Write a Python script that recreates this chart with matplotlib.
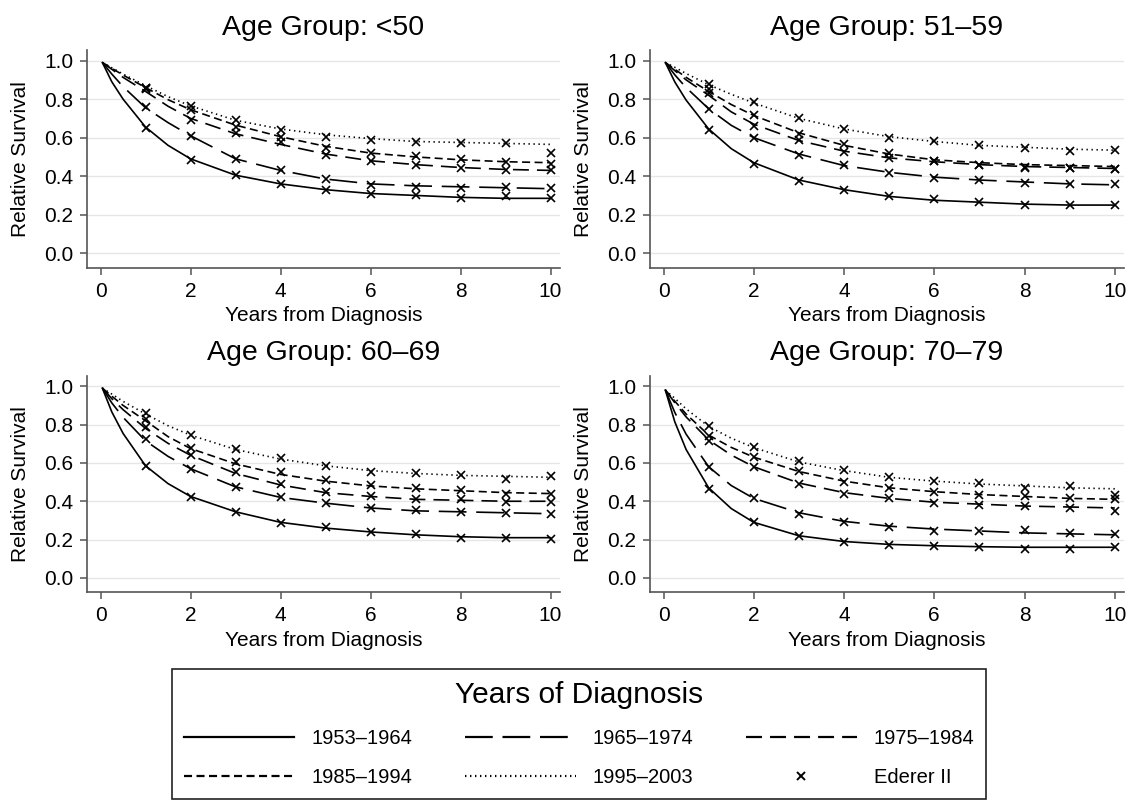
import matplotlib
matplotlib.use('Agg')
import matplotlib.pyplot as plt
from matplotlib.lines import Line2D

########################
# Data
########################

panel_titles = ['Age Group: <50', 'Age Group: 51\u201359',
                'Age Group: 60\u201369', 'Age Group: 70\u201379']
periods = ['1953\u20131964', '1965\u20131974', '1975\u20131984',
           '1985\u20131994', '1995\u20132003']

# years of follow-up for Ederer II estimates
years = [1, 2, 3, 4, 5, 6, 7, 8, 9, 10]
# knots where the fitted curves were read
t_curve = [0.04, 0.25, 0.5, 1, 1.5, 2, 3, 4, 5, 6, 7, 8, 9, 10]

# --- Age <50 ---
fit_lt50_1953 = [0.99, 0.89, 0.80, 0.655, 0.56, 0.49, 0.405, 0.36, 0.33, 0.31, 0.30, 0.29, 0.285, 0.285]
fit_lt50_1965 = [0.99, 0.93, 0.865, 0.755, 0.678, 0.61, 0.49, 0.43, 0.385, 0.36, 0.35, 0.345, 0.34, 0.335]
fit_lt50_1975 = [0.99, 0.955, 0.913, 0.84, 0.763, 0.70, 0.62, 0.565, 0.515, 0.48, 0.46, 0.445, 0.435, 0.43]
fit_lt50_1985 = [0.99, 0.96, 0.925, 0.86, 0.797, 0.745, 0.665, 0.605, 0.555, 0.52, 0.50, 0.485, 0.475, 0.47]
fit_lt50_1995 = [0.99, 0.963, 0.93, 0.87, 0.8125, 0.765, 0.69, 0.645, 0.615, 0.595, 0.58, 0.575, 0.57, 0.565]
ed_lt50_1953 = [0.65, 0.485, 0.405, 0.36, 0.33, 0.31, 0.30, 0.285, 0.295, 0.285]
ed_lt50_1965 = [0.76, 0.61, 0.49, 0.43, 0.385, 0.355, 0.345, 0.34, 0.345, 0.34]
ed_lt50_1975 = [0.85, 0.69, 0.625, 0.58, 0.51, 0.48, 0.46, 0.44, 0.43, 0.43]
ed_lt50_1985 = [0.86, 0.745, 0.655, 0.605, 0.545, 0.52, 0.505, 0.49, 0.475, 0.465]
ed_lt50_1995 = [0.86, 0.765, 0.69, 0.64, 0.605, 0.59, 0.575, 0.57, 0.57, 0.52]

# --- Age 51-59 ---
fit_5159_1953 = [0.99, 0.889, 0.795, 0.645, 0.543, 0.47, 0.38, 0.33, 0.295, 0.275, 0.265, 0.255, 0.25, 0.25]
fit_5159_1965 = [0.99, 0.926, 0.86, 0.75, 0.664, 0.60, 0.515, 0.455, 0.42, 0.395, 0.38, 0.37, 0.36, 0.355]
fit_5159_1975 = [0.99, 0.948, 0.90, 0.82, 0.734, 0.67, 0.585, 0.53, 0.495, 0.475, 0.46, 0.45, 0.445, 0.44]
fit_5159_1985 = [0.99, 0.955, 0.913, 0.84, 0.772, 0.715, 0.625, 0.56, 0.515, 0.485, 0.47, 0.46, 0.455, 0.45]
fit_5159_1995 = [0.99, 0.965, 0.933, 0.875, 0.825, 0.78, 0.70, 0.645, 0.605, 0.58, 0.56, 0.55, 0.54, 0.535]
ed_5159_1953 = [0.64, 0.465, 0.375, 0.33, 0.295, 0.28, 0.265, 0.25, 0.25, 0.25]
ed_5159_1965 = [0.75, 0.60, 0.51, 0.46, 0.415, 0.39, 0.38, 0.365, 0.36, 0.36]
ed_5159_1975 = [0.83, 0.66, 0.59, 0.525, 0.495, 0.48, 0.46, 0.45, 0.445, 0.435]
ed_5159_1985 = [0.85, 0.715, 0.62, 0.565, 0.52, 0.48, 0.46, 0.445, 0.445, 0.435]
ed_5159_1995 = [0.88, 0.785, 0.70, 0.645, 0.60, 0.585, 0.56, 0.545, 0.53, 0.535]

# --- Age 60-69 ---
fit_6069_1953 = [0.99, 0.866, 0.754, 0.585, 0.492, 0.425, 0.345, 0.29, 0.26, 0.24, 0.225, 0.215, 0.21, 0.21]
fit_6069_1965 = [0.99, 0.913, 0.838, 0.715, 0.634, 0.57, 0.475, 0.42, 0.39, 0.365, 0.35, 0.345, 0.34, 0.335]
fit_6069_1975 = [0.99, 0.935, 0.878, 0.78, 0.702, 0.64, 0.545, 0.485, 0.445, 0.425, 0.41, 0.405, 0.40, 0.40]
fit_6069_1985 = [0.99, 0.948, 0.90, 0.82, 0.737, 0.675, 0.595, 0.54, 0.505, 0.48, 0.465, 0.455, 0.445, 0.44]
fit_6069_1995 = [0.99, 0.959, 0.921, 0.855, 0.794, 0.745, 0.67, 0.62, 0.585, 0.56, 0.545, 0.535, 0.53, 0.525]
ed_6069_1953 = [0.585, 0.42, 0.345, 0.285, 0.265, 0.24, 0.23, 0.21, 0.21, 0.205]
ed_6069_1965 = [0.725, 0.57, 0.475, 0.42, 0.39, 0.365, 0.355, 0.345, 0.34, 0.335]
ed_6069_1975 = [0.785, 0.64, 0.55, 0.49, 0.45, 0.43, 0.41, 0.41, 0.395, 0.395]
ed_6069_1985 = [0.83, 0.68, 0.605, 0.55, 0.51, 0.485, 0.47, 0.46, 0.44, 0.44]
ed_6069_1995 = [0.86, 0.745, 0.675, 0.625, 0.585, 0.555, 0.545, 0.535, 0.515, 0.53]

# --- Age 70-79 ---
fit_7079_1953 = [0.98, 0.814, 0.67, 0.47, 0.362, 0.29, 0.22, 0.19, 0.175, 0.168, 0.163, 0.16, 0.16, 0.16]
fit_7079_1965 = [0.98, 0.863, 0.75, 0.58, 0.482, 0.415, 0.34, 0.295, 0.27, 0.255, 0.245, 0.235, 0.23, 0.225]
fit_7079_1975 = [0.98, 0.914, 0.84, 0.72, 0.641, 0.58, 0.495, 0.445, 0.415, 0.395, 0.385, 0.375, 0.37, 0.365]
fit_7079_1985 = [0.98, 0.922, 0.855, 0.745, 0.681, 0.63, 0.555, 0.505, 0.47, 0.45, 0.435, 0.425, 0.415, 0.41]
fit_7079_1995 = [0.98, 0.937, 0.882, 0.79, 0.729, 0.68, 0.605, 0.56, 0.525, 0.505, 0.49, 0.48, 0.47, 0.465]
ed_7079_1953 = [0.466, 0.29, 0.22, 0.19, 0.17, 0.165, 0.16, 0.15, 0.15, 0.16]
ed_7079_1965 = [0.58, 0.415, 0.335, 0.29, 0.265, 0.245, 0.245, 0.25, 0.235, 0.23]
ed_7079_1975 = [0.715, 0.58, 0.49, 0.44, 0.415, 0.39, 0.38, 0.375, 0.365, 0.35]
ed_7079_1985 = [0.74, 0.63, 0.56, 0.50, 0.47, 0.45, 0.435, 0.43, 0.415, 0.41]
ed_7079_1995 = [0.795, 0.685, 0.61, 0.565, 0.525, 0.505, 0.495, 0.47, 0.48, 0.435]

fits = [
    [fit_lt50_1953, fit_lt50_1965, fit_lt50_1975, fit_lt50_1985, fit_lt50_1995],
    [fit_5159_1953, fit_5159_1965, fit_5159_1975, fit_5159_1985, fit_5159_1995],
    [fit_6069_1953, fit_6069_1965, fit_6069_1975, fit_6069_1985, fit_6069_1995],
    [fit_7079_1953, fit_7079_1965, fit_7079_1975, fit_7079_1985, fit_7079_1995],
]
ederer = [
    [ed_lt50_1953, ed_lt50_1965, ed_lt50_1975, ed_lt50_1985, ed_lt50_1995],
    [ed_5159_1953, ed_5159_1965, ed_5159_1975, ed_5159_1985, ed_5159_1995],
    [ed_6069_1953, ed_6069_1965, ed_6069_1975, ed_6069_1985, ed_6069_1995],
    [ed_7079_1953, ed_7079_1965, ed_7079_1975, ed_7079_1985, ed_7079_1995],
]

########################
# Style
########################

plt.rcParams['font.family'] = ['Liberation Sans', 'DejaVu Sans']
plt.rcParams['lines.scale_dashes'] = False

# solid, long dash, dash, short dash, dotted
styles = ['-', (0, (20, 7)), (0, (11.5, 5.8)), (0, (5.8, 3.2)), (0, (1, 2.6))]
spine_col = '#555555'

fig = plt.figure(figsize=(11.32, 8), dpi=100)

# axes rectangles (figure fraction)
positions = [
    [0.0769, 0.6654, 0.4174, 0.2721],
    [0.5742, 0.6654, 0.4186, 0.2721],
    [0.0769, 0.2596, 0.4174, 0.2708],
    [0.5742, 0.2596, 0.4186, 0.2708],
]

for p in range(4):
    ax = fig.add_axes(positions[p])
    for s in range(5):
        ax.plot(t_curve, fits[p][s], color='black', lw=1.2, linestyle=styles[s])
        ax.plot(years, ederer[p][s], 'x', color='black', ms=5.5, mew=1.2)

    ax.set_xlim(-0.3, 10.2)
    ax.set_ylim(-0.075, 1.055)
    ax.set_xticks([0, 2, 4, 6, 8, 10])
    ax.set_yticks([0, 0.2, 0.4, 0.6, 0.8, 1.0])
    ax.set_yticklabels(['0.0', '0.2', '0.4', '0.6', '0.8', '1.0'])
    ax.grid(axis='y', color='#e6e6e6', lw=1)
    ax.set_axisbelow(True)
    for side in ['top', 'right']:
        ax.spines[side].set_visible(False)
    for side in ['left', 'bottom']:
        ax.spines[side].set_color(spine_col)
        ax.spines[side].set_linewidth(1.2)
    ax.tick_params(length=5, width=1.1, color=spine_col, labelsize=15)
    ax.tick_params(axis='y', pad=5)
    ax.tick_params(axis='x', pad=5)
    ax.set_xlabel('Years from Diagnosis', fontsize=15, labelpad=4)
    ax.set_ylabel('Relative Survival', fontsize=15, labelpad=10)
    ax.set_title(panel_titles[p], fontsize=20.5, pad=11)

########################
# Legend
########################

handles = [Line2D([], [], color='black', lw=1.6, linestyle=styles[s]) for s in range(5)]
handles.append(Line2D([], [], color='black', marker='x', linestyle='none', ms=6, mew=1.4))
labels = periods + ['Ederer II']
# matplotlib fills legend columns first: reorder to read row-wise
order = [0, 3, 1, 4, 2, 5]
leg = fig.legend([handles[i] for i in order], [labels[i] for i in order],
                 ncol=3, loc='upper center', bbox_to_anchor=(0.5115, 1 - 669 / 800.),
                 borderaxespad=0,
                 title='Years of Diagnosis', title_fontsize=21.5, fontsize=14.5,
                 handlelength=5.5, handletextpad=0.85, columnspacing=2.6,
                 labelspacing=1.0, borderpad=0.6, fancybox=False, framealpha=1,
                 edgecolor='#222222', numpoints=1)
leg.get_frame().set_linewidth(1.2)

fig.savefig('out.png', dpi=100)
